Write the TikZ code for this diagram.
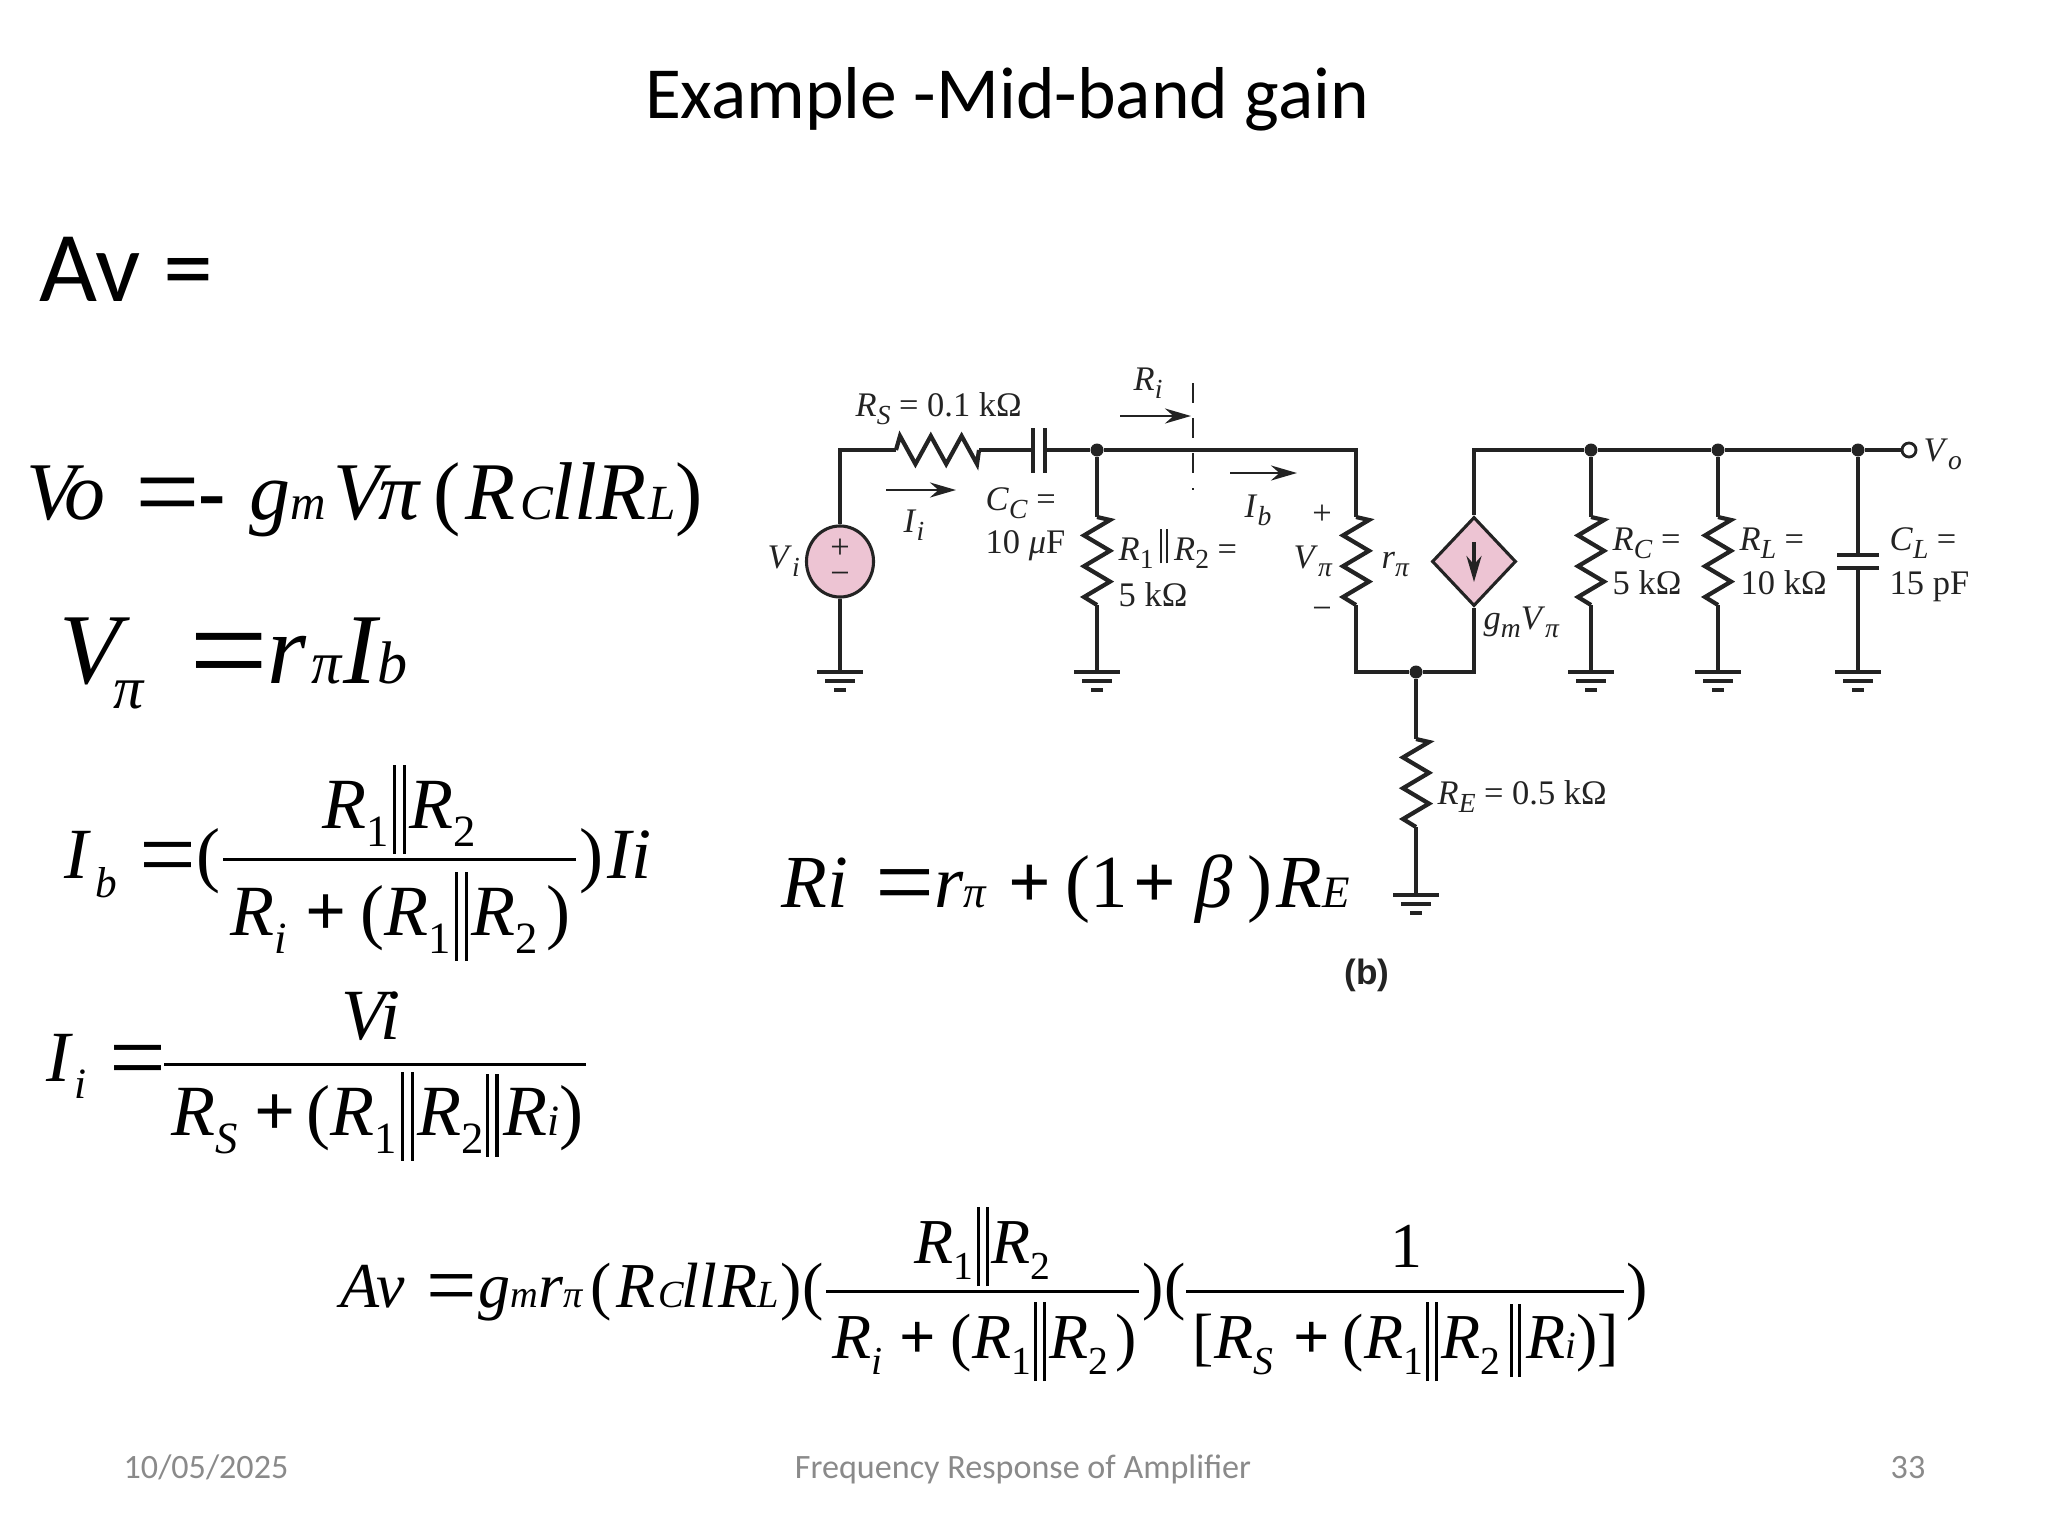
\documentclass[tikz,border=0pt]{standalone}
\usepackage{fontspec}
\setmainfont{Liberation Serif}
\newfontfamily\cali{Carlito}
\newfontfamily\arial{Liberation Sans}
\usetikzlibrary{arrows.meta,positioning,shapes.geometric}
\definecolor{pinkfill}{HTML}{EDC4D3}
\definecolor{inkline}{HTML}{232323}
\definecolor{footgray}{HTML}{8A8A8A}
\newcommand{\dn}[1]{\raisebox{-.26em}{\scalebox{.62}{#1}}}
\newcommand{\dnl}[1]{\raisebox{-.24em}{\scalebox{.8}{#1}}}
\newcommand{\sm}[1]{\scalebox{.6}{#1}}
\newcommand{\dbar}{\kern.05em\rule[-.36em]{.045em}{1.24em}\kern.095em\rule[-.36em]{.045em}{1.24em}\kern.05em}
\newcommand{\tbar}{\rule[-.3em]{.045em}{1.15em}\kern.09em\rule[-.3em]{.045em}{1.15em}}
\newcommand{\lbar}{\kern.18em\rule[-.1em]{.06em}{1em}\kern.12em\rule[-.1em]{.06em}{1em}\kern.18em}
\newcommand{\pl}{\textup{\bfseries +}}
\newcommand{\eqs}{\textup{\raisebox{-.14em}{\scalebox{1.4}{=}}}}
\tikzset{
	eq/.style={anchor=base west,inner sep=0pt,text=black},
	eqv/.style={eq,font=\fontsize{23.3}{28}\selectfont\itshape},
	eqp/.style={eq,font=\fontsize{28.5}{34}\selectfont\itshape},
	eqf/.style={eq,font=\fontsize{20.5}{25}\selectfont\itshape},
	eqr/.style={eq,font=\fontsize{21.3}{26}\selectfont\itshape},
	eqa/.style={eq,font=\fontsize{18.2}{22}\selectfont\itshape},
	fracline/.style={draw=black,line width=.85pt},
	lbl/.style={anchor=base west,inner sep=0pt,text=inkline,font=\fontsize{9.8}{12}\selectfont},
	wire/.style={draw=inkline,line width=.88pt},
	plate/.style={draw=inkline,line width=1.2pt},
	dot/.style={circle,fill=inkline,inner sep=0pt,minimum size=.13cm},
	flow/.style={draw=inkline,line width=.8pt,-{Stealth[length=2.6mm,width=1.5mm]}},
	foot/.style={anchor=base,inner sep=0pt,text=footgray,font=\fontsize{9.7}{11}\selectfont\cali},
	resv/.pic={\draw[wire,line width=1.2pt,line join=miter] (0,0) coordinate (-a) -- ++(13,3) -- ++(-26,15.4) -- ++(26,15.4) -- ++(-26,15.4) -- ++(26,15.4) -- ++(-26,15.4) -- ++(13,8) coordinate (-b);},
	resh/.pic={\draw[wire,line width=1.2pt,line join=miter] (0,0) coordinate (-a) -- ++(4,-14) -- ++(15.4,28) -- ++(15.4,-28) -- ++(15.4,28) -- ++(15.4,-28) -- ++(15.4,28) -- ++(2,-14) coordinate (-b);},
	gnd/.pic={\coordinate (-a) at (0,0);
		\draw[wire,line width=1.2pt] (-23,0) -- (23,0);
		\draw[wire,line width=1.2pt] (-15,9) -- (15,9);
		\draw[wire,line width=1.2pt] (-6,18) -- (6,18);}
}
\begin{document}
\begin{tikzpicture}[x=0.01cm,y=-0.01cm]
	\useasboundingbox (0,0) rectangle (2048,1536);
	% slide texts
	\node (title) at (1007,118) [anchor=base,inner sep=0pt,font=\fontsize{20.9}{25}\selectfont\cali] {Example -Mid-band gain};
	\node (av) at (39,301) [anchor=base west,inner sep=0pt,font=\fontsize{28.5}{34}\selectfont\cali] {Av =};
	\node (date) at (206,1478) [foot] {10/05/2025};
	\node (topic) at (1023,1478) [foot] {Frequency Response of Amplifier};
	\node (page) at (1908,1478) [foot] {33};
	% Vo line
	\node (voa) at (26,519) [eqv] {V};
	\node (vop) at (64,519) [eqv] {o};
	\node (vob) at (135,519) [eqv] {\eqs};
	\node (voc) at (198,519) [eqv] {\textup{\bfseries -}};
	\node (vod) at (249,519) [eqv] {g\sm{m}};
	\node (voe) at (333,519) [eqv] {V};
	\node (vof) at (378,519) [eqv] {π};
	\node (vog) at (433,519) [eqv] {\textup{(}};
	\node (voh) at (465,519) [eqv] {R};
	\node (voi) at (520,519) [eqv] {\sm{C}};
	\node (voj) at (551,519) [eqv] {ll};
	\node (vok) at (596,519) [eqv] {R};
	\node (vol) at (648,519) [eqv] {\sm{L}};
	\node (vom) at (675,519) [eqv] {\textup{)}};
	% V pi line
	\node (vpa) at (59,683) [eqp] {V};
	\node (vpb) at (113,708) [eqp] {\sm{π}};
	\node (vpc) at (189,683) [eqp] {\eqs};
	\node (vpd) at (267,683) [eqp] {r};
	\node (vpe) at (311,683) [eqp] {\sm{π}};
	\node (vpf) at (343,683) [eqp] {I};
	\node (vpg) at (377,683) [eqp] {\sm{b}};
	% I b line
	\node (iba) at (64,878) [eqf] {I};
	\node (ibb) at (95,897) [eqf] {\sm{b}};
	\node (ibc) at (139,878) [eqf] {\eqs};
	\node (ibd) at (196,878) [eqf] {\textup{(}};
	\node (ibe) at (322,828) [eqf] {R\dn{\textup{1}}\dbar R\dn{\textup{2}}};
	\draw[fracline] (223,859) coordinate (ibl) -- (576,859) coordinate (ibr);
	\node (ibf) at (230,935) [eqf] {R\dn{i}};
	\node (ibg) at (305,935) [eqf] {\pl};
	\node (ibh) at (360,935) [eqf] {\textup{(}R\dn{\textup{1}}\dbar R\dn{\textup{2}}\kern.12em\textup{)}};
	\node (ibi) at (579,878) [eqf] {\textup{)}};
	\node (ibj) at (607,878) [eqf] {Ii};
	% I i line
	\node (iia) at (46,1081) [eqf] {I};
	\node (iib) at (74,1098) [eqf] {\sm{i}};
	\node (iic) at (109,1081) [eqf] {\eqs};
	\draw[fracline] (164,1064) coordinate (iil) -- (586,1064) coordinate (iir);
	\node (iid) at (341,1039) [eqf] {V};
	\node (iij) at (380,1039) [eqf] {i};
	\node (iie) at (171,1135) [eqf] {R\dn{S}};
	\node (iif) at (254,1135) [eqf] {\pl};
	\node (iig) at (306,1135) [eqf] {\textup{(}R\dn{\textup{1}}\dbar R\dn{\textup{2}}};
	\node (iih) at (485,1135) [eqf] {\tbar\kern.06em R\sm{i}\textup{)}};
	% R i line
	\node (ria) at (781,907) [eqr] {Ri};
	\node (rib) at (875,907) [eqr] {\eqs};
	\node (ric) at (934,907) [eqr] {r\sm{π}};
	\node (rid) at (1008,907) [eqr] {\pl};
	\node (rie) at (1065,907) [eqr] {\textup{(1}};
	\node (rif) at (1133,907) [eqr] {\pl};
	\node (rig) at (1195,907) [eqr] {β};
	\node (rih) at (1247,907) [eqr] {\textup{)}};
	\node (rii) at (1276,907) [eqr] {R\sm{E}};
	% A v line
	\node (ava) at (340,1307) [eqa] {Av};
	\node (avb) at (426,1307) [eqa] {\eqs};
	\node (avc) at (478,1307) [eqa] {g\sm{m}};
	\node (avd) at (538,1307) [eqa] {r\sm{π}};
	\node (ave) at (590,1307) [eqa] {\textup{(}};
	\node (avf) at (616,1307) [eqa] {R};
	\node (avg) at (658,1307) [eqa] {\sm{C}};
	\node (avh) at (681,1307) [eqa] {ll};
	\node (avi) at (718,1307) [eqa] {R};
	\node (avj) at (757,1307) [eqa] {\sm{L}};
	\node (avk) at (780,1307) [eqa] {\textup{)(}};
	\draw[fracline] (826,1291) coordinate (avl) -- (1139,1291) coordinate (avr);
	\node (avm) at (914,1263) [eqa] {R\dn{\textup{1}}\dbar R\dn{\textup{2}}};
	\node (avn) at (832,1358) [eqa] {R\dn{i}};
	\node (avo) at (899,1358) [eqa] {\pl};
	\node (avp) at (950,1358) [eqa] {\textup{(}R\dn{\textup{1}}\dbar R\dn{\textup{2}}\kern.12em\textup{)}};
	\node (avq) at (1142,1307) [eqa] {\textup{)(}};
	\draw[fracline] (1186,1291) coordinate (avs) -- (1624,1291) coordinate (avt);
	\node (avu) at (1390,1267) [eqa] {\textup{1}};
	\node (avv) at (1192,1358) [eqa] {\textup{[}R\dn{S}};
	\node (avw) at (1293,1358) [eqa] {\pl};
	\node (avx) at (1342,1358) [eqa] {\textup{(}R\dn{\textup{1}}\dbar R\dn{\textup{2}}};
	\node (avy) at (1509,1358) [eqa] {\tbar\kern.08em R\sm{i}\textup{)]}};
	\node (avz) at (1626,1307) [eqa] {\textup{)}};
	% circuit parts
	\node (vi) at (840,561.5) [ellipse,draw=inkline,line width=.88pt,fill=pinkfill,inner sep=0pt,minimum width=.67cm,minimum height=.71cm] {};
	\pic (rs) at (896,450) {resh};
	\coordinate (cca) at (1033,450);
	\coordinate (ccb) at (1045,450);
	\path [plate,line width=.95pt] (cca)+(0,-22) -- +(0,23);
	\path [plate,line width=.95pt] (ccb)+(0,-22) -- +(0,23);
	\node (ja) at (1097,450) [dot] {};
	\pic (rb) at (1097,517) {resv};
	\pic (rp) at (1356,517) {resv};
	\node (gm) at (1474,561.5) [diamond,draw=inkline,line width=.88pt,fill=pinkfill,inner sep=0pt,aspect=.95,minimum width=.84cm,minimum height=.89cm] {};
	\node (jb) at (1591,450) [dot] {};
	\node (jc) at (1718,450) [dot] {};
	\node (jd) at (1858,450) [dot] {};
	\node (je) at (1416,672) [dot] {};
	\pic (rc) at (1591,517) {resv};
	\pic (rl) at (1718,517) {resv};
	\pic (re) at (1416,739) {resv};
	\coordinate (cla) at (1858,555);
	\coordinate (clb) at (1858,568);
	\path [plate] (cla)+(-21,0) -- +(21,0);
	\path [plate] (clb)+(-21,0) -- +(21,0);
	\node (vo) at (1909,450) [circle,draw=inkline,line width=.8pt,inner sep=0pt,minimum size=.14cm] {};
	\pic (ga) at (840,672) {gnd};
	\pic (gb) at (1097,672) {gnd};
	\pic (gc) at (1591,672) {gnd};
	\pic (gd) at (1718,672) {gnd};
	\pic (ge) at (1858,672) {gnd};
	\pic (gf) at (1416,895) {gnd};
	% circuit wires
	\path [wire] (vi.north) |- (rs-a);
	\path [wire] (rs-b) -- (cca);
	\path [wire] (ccb) -- (ja);
	\path [wire] (ja) -- (rb-a);
	\path [wire] (rb-b) -- (gb-a);
	\path [wire] (vi.south) -- (ga-a);
	\path [wire] (ja) -| (rp-a);
	\path [wire] (rp-b) |- (je);
	\path [wire] (je) -| (gm.south);
	\path [wire] (je) -- (re-a);
	\path [wire] (re-b) -- (gf-a);
	\path [wire] (gm.north) |- (jb);
	\path [wire] (jb) -- (jc);
	\path [wire] (jc) -- (jd);
	\path [wire] (jd) -- (vo);
	\path [wire] (jb) -- (rc-a);
	\path [wire] (rc-b) -- (gc-a);
	\path [wire] (jc) -- (rl-a);
	\path [wire] (rl-b) -- (gd-a);
	\path [wire] (jd) -- (cla);
	\path [wire] (clb) -- (ge-a);
	\draw[flow,line width=.95pt] (1474,542) coordinate (gma) -- (1474,582) coordinate (gmb);
	\draw[wire,line width=.7pt,dash pattern=on .2cm off .15cm] (1193,383) coordinate (rsa) -- (1193,490) coordinate (rsb);
	\draw[flow] (1120,416) coordinate (ria1) -- (1191,416) coordinate (ria2);
	\draw[flow] (886,490) coordinate (iia1) -- (956,490) coordinate (iia2);
	\draw[flow] (1230,473) coordinate (iba1) -- (1297,473) coordinate (iba2);
	% circuit labels
	\node (lrs) at (855,416) [lbl] {\textit{R}\dnl{\textit{S}} = 0.1 kΩ};
	\node (lri) at (1133,390) [lbl] {\textit{R}\dnl{\textit{i}}};
	\node (lii) at (903,532) [lbl] {\textit{I}\dnl{\textit{i}}};
	\node (lcc) at (985,510) [lbl] {\textit{C}\dnl{\textit{C}} =};
	\node (lcv) at (985,553) [lbl] {10 \textit{μ}F};
	\node (lrb) at (1118,560) [lbl] {\textit{R}\dnl{1}\lbar\textit{R}\dnl{2} =};
	\node (lrv) at (1118,606) [lbl] {5 kΩ};
	\node (lvi) at (767,568) [lbl] {\textit{V}\dnl{\textit{i}}};
	\node (plusa) at (840,549) [lbl,anchor=center] {+};
	\node (minusa) at (840,578) [lbl,anchor=center] {−};
	\node (lib) at (1244,517) [lbl] {\textit{I}\dnl{\textit{b}}};
	\node (plusb) at (1322,515) [lbl,anchor=center] {+};
	\node (lvp) at (1293,568) [lbl] {\textit{V}\dnl{\textit{π}}};
	\node (minusb) at (1322,613) [lbl,anchor=center] {−};
	\node (lrp) at (1381,568) [lbl] {\textit{r}\dnl{\textit{π}}};
	\node (lgm) at (1483,629) [lbl] {\textit{g}\dnl{\textit{m}}\textit{V}\dnl{\textit{π}}};
	\node (lrc) at (1612,550) [lbl] {\textit{R}\dnl{\textit{C}} =};
	\node (lrcv) at (1612,594) [lbl] {5 kΩ};
	\node (lrl) at (1739,550) [lbl] {\textit{R}\dnl{\textit{L}} =};
	\node (lrlv) at (1740,594) [lbl] {10 kΩ};
	\node (lcl) at (1889,550) [lbl] {\textit{C}\dnl{\textit{L}} =};
	\node (lclv) at (1889,594) [lbl] {15 pF};
	\node (lvo) at (1923,461) [lbl] {\textit{V}\dnl{\textit{o}}};
	\node (lre) at (1437,804) [lbl] {\textit{R}\dnl{\textit{E}} = 0.5 kΩ};
	\node (lb) at (1367,984) [anchor=base,inner sep=0pt,text=inkline,font=\fontsize{10}{12}\selectfont\arial\bfseries] {(b)};
\end{tikzpicture}
\end{document}
